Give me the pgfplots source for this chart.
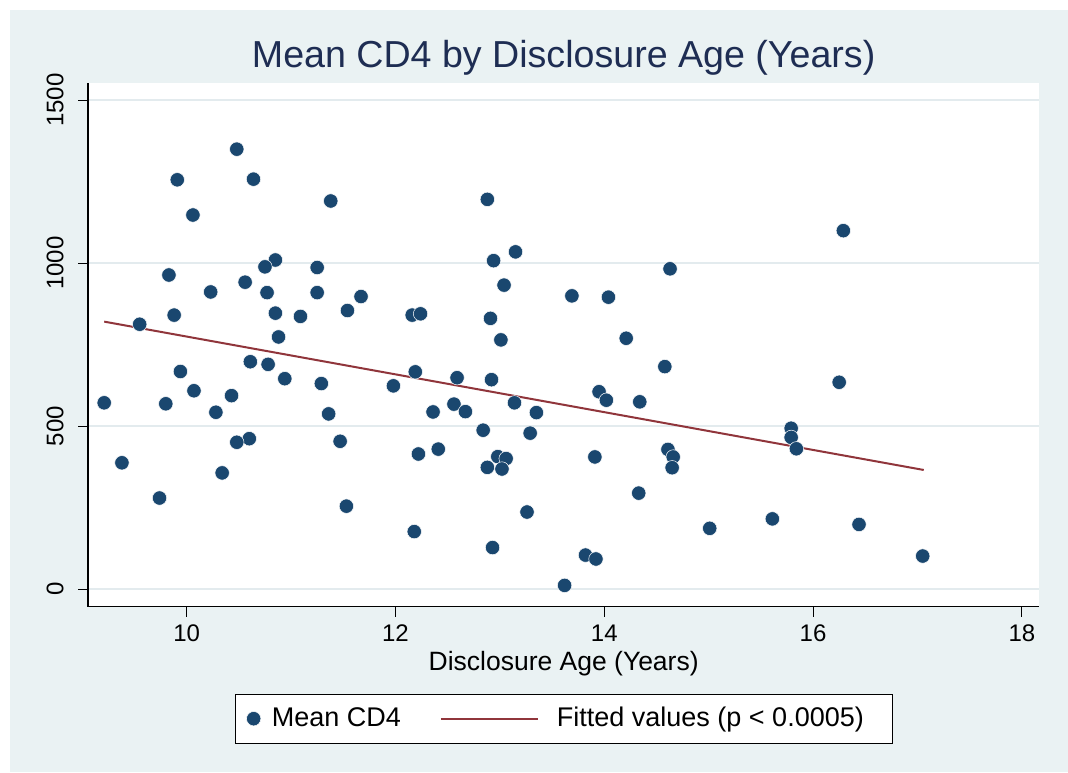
\documentclass[border=0pt]{standalone}
\usepackage{fontspec}
\setmainfont{Liberation Sans}
\usepackage{pgfplots}
\pgfplotsset{compat=1.18}
\definecolor{bg}{HTML}{EAF2F3}
\definecolor{gridc}{HTML}{E3EBEE}
\definecolor{stnavy}{HTML}{1A476F}
\definecolor{stmaroon}{HTML}{90353B}
\definecolor{titlecol}{HTML}{1E2D53}
\begin{document}
\begin{tikzpicture}
\fill[white] (0,0) rectangle (534pt,386pt);
\fill[bg] (5pt,0) rectangle (534pt,381pt);
\useasboundingbox (0,0) rectangle (534pt,386pt);
\begin{axis}[
  at={(44pt,82.65pt)}, anchor=south west,
  scale only axis, width=475.65pt, height=261.7pt,
  xmin=9.055, xmax=18.167, ymin=-53.4, ymax=1552,
  axis lines=left, axis line style={-, line width=0.6pt, black},
  axis background/.style={fill=white},
  tick align=outside, major tick length=5pt,
  tick style={black, line width=0.5pt},
  xtick={10,12,14,16,18}, ytick={0,500,1000,1500},
  ymajorgrids, grid style={gridc, line width=1pt},
  /pgf/number format/assume math mode=true,
  /pgf/number format/1000 sep={},
  tick label style={font=\fontsize{12}{14}\selectfont, text=black},
  xticklabel style={anchor=north, inner sep=0pt},
  yticklabel style={rotate=90, anchor=south, inner sep=0pt},
  xticklabel shift=4pt,
  yticklabel shift=7pt,
  xlabel={Disclosure Age (Years)},
  xlabel style={at={(axis description cs:0.5,0)}, anchor=base, yshift=-32pt, font=\fontsize{13.25}{15}\selectfont},
  title={Mean CD4 by Disclosure Age (Years)},
  title style={at={(axis description cs:0.5,1)}, anchor=base, yshift=1.7pt, font=\fontsize{18.8}{21}\selectfont, text=titlecol},
  legend columns=2,
  legend style={at={(0.5,0)}, anchor=north, yshift=-43.5pt, draw=black, line width=0.5pt, fill=white,
    inner ysep=4.6pt, inner xsep=5.7pt,
    font=\fontsize{13.5}{15}\selectfont,
    /tikz/every even column/.append style={column sep=17.5pt}},
]
\addplot[only marks, mark=*, mark size=3.6pt, mark options={fill=stnavy, draw=white, line width=0.25pt},
  legend image code/.code={\path[draw=none] (0pt,0pt) -- (7.1pt,0pt);\draw[mark=*, mark size=3.6pt, mark options={fill=stnavy, draw=white, line width=0.25pt}] plot coordinates {(0pt,0pt)};}]
 table {
x y
10.48 1350
9.91 1256
10.64 1258
10.06 1148
11.38 1191
10.85 1010
10.75 989
11.25 987
9.83 964
10.56 942
10.23 912
10.77 910
11.25 910
9.88 841
10.85 847
11.09 837
9.55 813
10.88 774
10.61 698
10.78 690
9.94 668
10.94 646
11.29 631
10.07 609
10.43 594
9.21 572
9.80 569
10.28 543
11.36 538
10.60 462
10.48 451
11.47 454
9.38 388
10.34 357
9.74 280
12.88 1196
13.15 1035
12.94 1008
13.04 933
11.67 898
11.54 855
12.16 841
12.24 845
12.91 831
13.01 765
11.98 624
12.19 667
12.59 649
12.92 643
12.36 544
12.56 568
12.67 545
13.14 572
13.35 542
12.84 488
13.29 479
12.22 415
12.41 430
12.98 407
13.06 401
12.88 374
13.02 369
11.53 255
13.26 237
12.18 177
12.93 128
13.62 12
14.63 983
13.69 900
14.04 896
14.21 770
14.58 683
13.95 606
14.02 580
14.34 575
15.79 494
15.79 466
15.84 431
13.91 406
14.61 429
14.66 406
14.65 373
14.33 295
15.61 216
15.01 187
13.82 105
13.92 93
16.29 1100
16.25 635
16.44 199
17.05 102
};
\addlegendentry{Mean CD4}
\addplot[stmaroon, line width=1pt,
  legend image code/.code={\draw[stmaroon, line width=1pt] (0pt,0pt) -- (48.5pt,0pt);\path[draw=none] (0pt,0pt) -- (56pt,0pt);}]
 coordinates {(9.21,821) (17.06,366)};
\addlegendentry{Fitted values (p < 0.0005)\hspace*{6.5pt}}
\end{axis}
\end{tikzpicture}
\end{document}
